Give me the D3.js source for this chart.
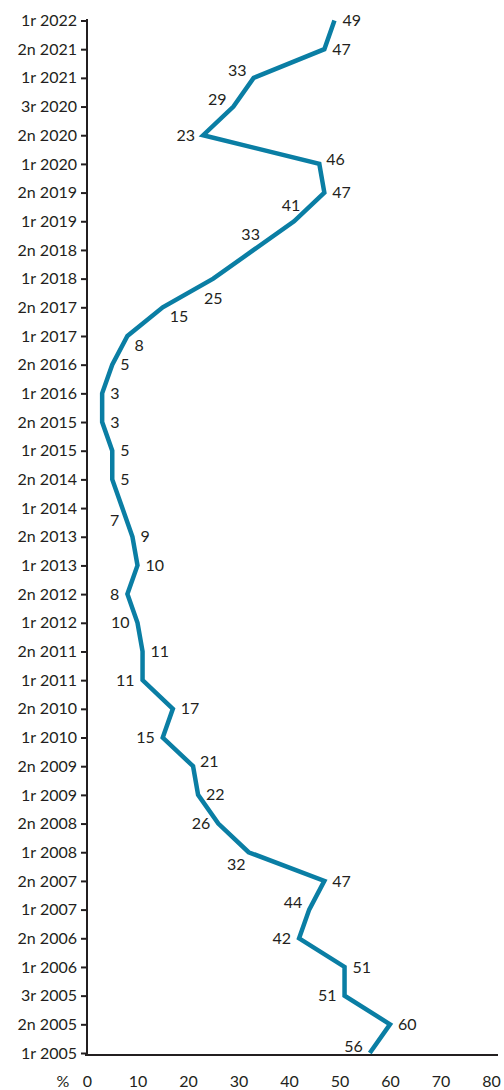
<!DOCTYPE html>
<html>
<head>
<meta charset="utf-8">
<script src="https://cdn.jsdelivr.net/npm/d3@7"></script>
<style>
  body { margin: 0; background: #fff; }
  text { font-family: Lato, "Open Sans", sans-serif; fill: #231f20; }
</style>
</head>
<body>
<div class="canvas"></div>
<script>
// periods, bottom (oldest) to top
const periods = [
  "1r 2005", "2n 2005", "3r 2005", "1r 2006", "2n 2006", "1r 2007", "2n 2007",
  "1r 2008", "2n 2008", "1r 2009", "2n 2009", "1r 2010", "2n 2010", "1r 2011",
  "2n 2011", "1r 2012", "2n 2012", "1r 2013", "2n 2013", "1r 2014", "2n 2014",
  "1r 2015", "2n 2015", "1r 2016", "2n 2016", "1r 2017", "2n 2017", "1r 2018",
  "2n 2018", "1r 2019", "2n 2019", "1r 2020", "2n 2020", "3r 2020", "1r 2021",
  "2n 2021", "1r 2022"
];
const values = [
  56, 60, 51, 51, 42, 44, 47,
  32, 26, 22, 21, 15, 17, 11,
  11, 10, 8, 10, 9, 7, 5,
  5, 3, 3, 5, 8, 15, 25,
  33, 41, 47, 46, 23, 29, 33,
  47, 49
];
const xTicks = [0, 10, 20, 30, 40, 50, 60, 70, 80];

// where each value label sits relative to its point
const labelSide = [
  "lu", "r", "l", "r", "l", "lu", "r",
  "ld", "l", "r", "ru", "l", "r", "l",
  "r", "l", "l", "r", "r", "ld", "r",
  "r", "r", "r", "r", "rd", "rd", "d",
  "u", "u", "r", "ru", "l", "lu", "lu",
  "r", "r"
];
const sideOffset = {
  r:  { dx: 8,  dy: 0,   anchor: "start" },
  ru: { dx: 7,  dy: -5,  anchor: "start" },
  rd: { dx: 7,  dy: 9,   anchor: "start" },
  l:  { dx: -8, dy: 0,   anchor: "end" },
  lu: { dx: -7, dy: -7,  anchor: "end" },
  ld: { dx: -3, dy: 12,  anchor: "end" },
  u:  { dx: -3, dy: -16, anchor: "middle" },
  d:  { dx: 0,  dy: 20,  anchor: "middle" }
};

const svgWidth = 504;
const svgHeight = 1090;
const axisX = 87;
const axisY = 1055;

const svg = d3
  .select(".canvas")
  .append("svg")
  .attr("width", svgWidth)
  .attr("height", svgHeight);

const x = d3.scaleLinear().domain([0, 80]).range([axisX, 491]);
const y = d3.scalePoint().domain(periods).range([1053, 20.5]);

// y axis
const yAxisGroup = svg.append("g").attr("transform", `translate(${axisX}, 0)`);
yAxisGroup.call(d3.axisLeft(y).tickSize(6).tickSizeOuter(0).tickPadding(4));
yAxisGroup.select(".domain").remove();
yAxisGroup.selectAll(".tick line").attr("stroke", "#231f20").attr("stroke-width", 2);
yAxisGroup
  .selectAll(".tick text")
  .attr("font-size", 16)
  .attr("fill", "#231f20");

// x axis
const xAxisGroup = svg.append("g").attr("transform", `translate(0, ${axisY})`);
xAxisGroup.call(
  d3.axisBottom(x).tickValues(xTicks).tickSize(0).tickPadding(21)
);
xAxisGroup.select(".domain").remove();
xAxisGroup
  .selectAll(".tick text")
  .attr("font-size", 16)
  .attr("fill", "#231f20");
xAxisGroup
  .append("text")
  .attr("x", 63)
  .attr("y", 21)
  .attr("dy", "0.71em")
  .attr("text-anchor", "middle")
  .attr("font-size", 16)
  .attr("fill", "#231f20")
  .text("%");

// axis lines
svg
  .append("line")
  .attr("x1", axisX)
  .attr("x2", axisX)
  .attr("y1", 19)
  .attr("y2", axisY + 1)
  .attr("stroke", "#231f20")
  .attr("stroke-width", 2);
svg
  .append("line")
  .attr("x1", axisX - 2)
  .attr("x2", 498)
  .attr("y1", axisY)
  .attr("y2", axisY)
  .attr("stroke", "#231f20")
  .attr("stroke-width", 2);

const points = periods.map((p, i) => ({ period: p, value: values[i], side: labelSide[i] }));

const line = d3
  .line()
  .x(d => x(d.value))
  .y(d => y(d.period));

svg
  .append("path")
  .datum(points)
  .attr("fill", "none")
  .attr("stroke", "#0a7ea4")
  .attr("stroke-width", 4.5)
  .attr("stroke-linejoin", "miter")
  .attr("d", line);

svg
  .append("g")
  .selectAll("text")
  .data(points)
  .enter()
  .append("text")
  .attr("x", d => x(d.value) + sideOffset[d.side].dx)
  .attr("y", d => y(d.period) + sideOffset[d.side].dy)
  .attr("dy", "0.35em")
  .attr("text-anchor", d => sideOffset[d.side].anchor)
  .attr("font-size", 16)
  .text(d => d.value);
</script>
</body>
</html>
